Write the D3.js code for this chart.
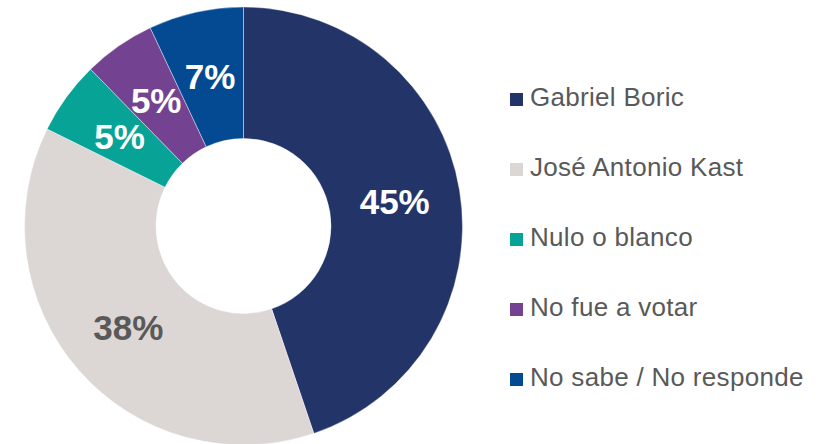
<!DOCTYPE html>
<html>
<head>
<meta charset="utf-8">
<script src="https://cdn.jsdelivr.net/npm/d3@7"></script>
<style>
  body { margin: 0; background: #fff; }
  text { font-family: "Liberation Sans", Arial, sans-serif; }
</style>
</head>
<body>
<div id="chart"></div>
<script>
// data
var categories = ['Gabriel Boric', 'José Antonio Kast', 'Nulo o blanco', 'No fue a votar', 'No sabe / No responde'];
var values = [44.8, 37.5, 5.4, 5.3, 7.0];
var colors = ['#233469', '#dcd7d5', '#06a396', '#734290', '#034a93'];
var labelColors = ['#ffffff', '#595959', '#ffffff', '#ffffff', '#ffffff'];

var svgWidth = 831,
	svgHeight = 444;

var cx = 243.5,
	cy = 226,
	outerR = 219,
	innerR = 87.5;

var svg = d3.select('#chart')
	.append('svg')
	.attr('width', svgWidth)
	.attr('height', svgHeight);

var data = categories.map((c, i) => ({name: c, value: values[i], color: colors[i], lc: labelColors[i]}));

var pie = d3.pie()
	.sort(null)
	.value(d => d.value);

var arc = d3.arc()
	.innerRadius(innerR)
	.outerRadius(outerR);

var donut = svg.append('g')
	.attr('transform', `translate(${cx},${cy})`);

var arcs = pie(data);

donut.selectAll('path')
	.data(arcs)
	.enter()
	.append('path')
	.attr('d', arc)
	.attr('fill', d => d.data.color)
	.attr('stroke', '#ffffff')
	.attr('stroke-width', 0.4);

//percent labels at the middle of each ring piece
donut.selectAll('text')
	.data(arcs)
	.enter()
	.append('text')
	.attr('x', d => arc.centroid(d)[0])
	.attr('y', d => arc.centroid(d)[1])
	.attr('dy', '0.36em')
	.attr('text-anchor', 'middle')
	.style('font-size', '35px')
	.style('font-weight', 'bold')
	.attr('fill', d => d.data.lc)
	.text(d => Math.round(d.data.value) + '%');

// legend
var legendY = d3.scalePoint()
	.domain(categories)
	.range([106, 386]);

var legend = svg.append('g');

var items = legend.selectAll('g')
	.data(data)
	.enter()
	.append('g')
	.attr('transform', d => `translate(510,${legendY(d.name)})`);

items.append('rect')
	.attr('x', 0)
	.attr('y', -13)
	.attr('width', 13)
	.attr('height', 13)
	.attr('fill', d => d.color);

items.append('text')
	.attr('x', 20)
	.attr('y', 0)
	.style('font-size', '26px')
	.style('letter-spacing', '0.3px')
	.attr('fill', '#595959')
	.text(d => d.name);
</script>
</body>
</html>
